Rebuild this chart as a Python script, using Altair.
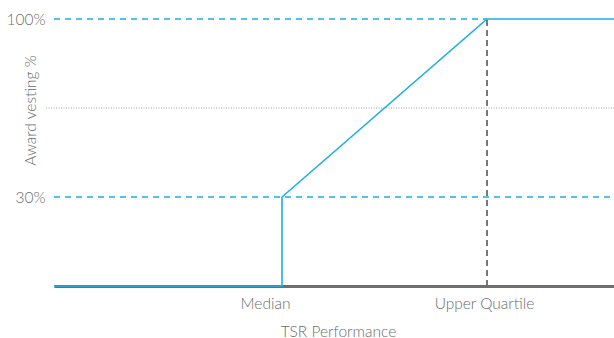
import altair as alt
import pandas as pd

# Vesting schedule: nothing below median, 30% at median, straight line to 100% at upper quartile
tsr_rank = [0, 50, 50, 75, 100]
vesting = [0, 0, 30, 100, 100]
step_order = [0, 1, 2, 3, 4]

# Reference levels
threshold_levels = [30, 100]
threshold_ends = [100, 75]
mid_level = [65]
upper_quartile = [75]

tick_values = [50, 75]
tick_labels = ["Median", "Upper Quartile"]

BLUE = "#1aaee6"
GREY_TEXT = "#6c6c6c"
FONT = "Lato"
FONT_SIZE = 15.5
FONT_WEIGHT = 300

W, H = 560, 267

x_scale = alt.Scale(domain=[0, 50, 75, 100], range=[0, 228, 433, W])
y_scale = alt.Scale(domain=[0, 30, 100], range=[H, 178, 0])

line_df = pd.DataFrame({"rank": tsr_rank, "vesting": vesting, "order": step_order})
levels_df = pd.DataFrame({"level": threshold_levels, "start": [0, 0], "end": threshold_ends})
mid_df = pd.DataFrame({"level": mid_level})
uq_df = pd.DataFrame({"rank": upper_quartile, "lo": [0], "hi": [100]})

label_map = "{" + ", ".join(f"'{v}': '{t}'" for v, t in zip(tick_values, tick_labels)) + "}"

x_axis = alt.Axis(
    values=tick_values,
    labelExpr=f"{label_map}[datum.value]",
    labelOffset={"expr": "datum.value == 50 ? -17 : -3"},
    grid=False,
    ticks=False,
    domainColor="#6e6e6e",
    domainWidth=3,
    labelFont=FONT,
    labelFontSize=FONT_SIZE,
    labelFontWeight=FONT_WEIGHT,
    labelColor=GREY_TEXT,
    labelPadding=10,
    title="TSR Performance",
    titleFont=FONT,
    titleFontSize=FONT_SIZE,
    titleFontWeight=FONT_WEIGHT,
    titleColor=GREY_TEXT,
    titleX=284,
    titleY=45,
    titleBaseline="middle",
    titleAnchor="middle",
)

y_axis = alt.Axis(
    values=threshold_levels,
    labelExpr="datum.value + '%'",
    grid=False,
    ticks=False,
    domain=False,
    labelFont=FONT,
    labelFontSize=FONT_SIZE,
    labelFontWeight=FONT_WEIGHT,
    labelColor=GREY_TEXT,
    labelPadding=9,
    title="Award vesting %",
    titleFont=FONT,
    titleFontSize=FONT_SIZE,
    titleFontWeight=FONT_WEIGHT,
    titleColor=GREY_TEXT,
    titleX=-24,
    titleY=91,
    titleBaseline="middle",
    titleAnchor="middle",
)

dotted = alt.Chart(mid_df).mark_rule(
    color="#8a8a8a", strokeWidth=0.8, strokeDash=[1, 1.5]
).encode(
    y=alt.Y("level:Q", scale=y_scale, axis=y_axis),
    x=alt.value(-8),
    x2=alt.value(W),
)

dashed_levels = alt.Chart(levels_df).mark_rule(
    color=BLUE, strokeWidth=1.5, strokeDash=[6, 5]
).encode(
    y=alt.Y("level:Q", scale=y_scale),
    x=alt.X("start:Q", scale=x_scale, axis=x_axis),
    x2="end:Q",
)

uq_rule = alt.Chart(uq_df).mark_rule(
    color="#6a6a6a", strokeWidth=1.8, strokeDash=[6, 4]
).encode(
    x=alt.X("rank:Q", scale=x_scale),
    y=alt.Y("lo:Q", scale=y_scale),
    y2="hi:Q",
)

vesting_line = alt.Chart(line_df).mark_line(
    color=BLUE, strokeWidth=1.6
).encode(
    x=alt.X("rank:Q", scale=x_scale),
    y=alt.Y("vesting:Q", scale=y_scale),
    order="order:Q",
)

chart = alt.layer(dotted, dashed_levels, uq_rule, vesting_line).properties(
    width=W,
    height=H,
    padding={"left": 54, "top": 19, "right": 0, "bottom": 52},
    autosize=alt.AutoSizeParams(type="none"),
    background="white",
).configure_view(stroke=None)

chart.save("out.html", embed_options={"renderer": "svg", "actions": False})
